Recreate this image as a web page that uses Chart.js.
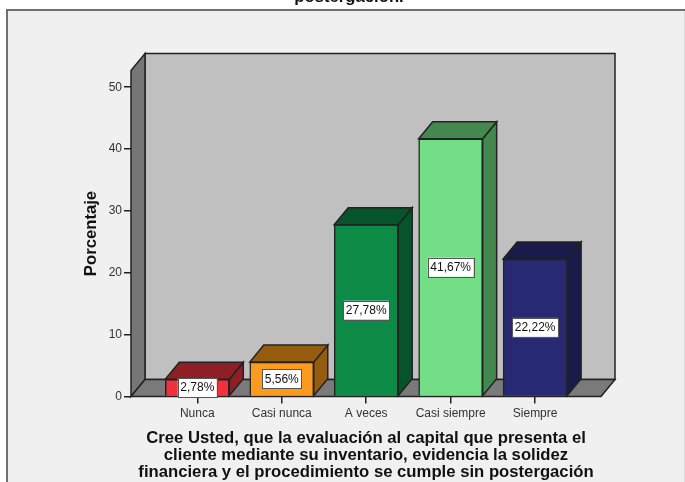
<!DOCTYPE html>
<html><head><meta charset="utf-8">
<style>html,body{margin:0;padding:0;background:#fff;overflow:hidden}canvas{display:block}</style>
<script src="https://cdn.jsdelivr.net/npm/chart.js@4"></script></head>
<body><div style="width:685px;height:482px"><canvas id="c" width="685" height="482"></canvas></div>
<script>
const categories = ['Nunca','Casi nunca','A veces','Casi siempre','Siempre'];
const percentages = [2.78,5.56,27.78,41.67,22.22];
const labelsText = ['2,78%','5,56%','27,78%','41,67%','22,22%'];
const yTicks = [0,10,20,30,40,50];
const frontColors = ['#f0323c','#fb9a1c','#0e8a47','#72de85','#272a72'];
const sideColors = ['#8e2025','#955c10','#05542b','#43884f','#191b4a'];
const titleLines = ['postergación.'];
const xTitleLines = ['Cree Usted, que la evaluación al capital que presenta el','cliente mediante su inventario, evidencia la solidez','financiera y el procedimiento se cumple sin postergación'];
const yTitle = 'Porcentaje';
const DX = 14, DY = -17, INK = '#222';
const FONT = '"Liberation Sans"';

function poly(ctx, pts, fill){
  ctx.beginPath(); pts.forEach((p,i)=> i?ctx.lineTo(p[0],p[1]):ctx.moveTo(p[0],p[1])); ctx.closePath();
  ctx.fillStyle = fill; ctx.fill(); ctx.lineWidth = 1.5; ctx.strokeStyle = INK; ctx.stroke();
}
const scene = {
  id:'scene',
  beforeDraw(ch){
    const c = ch.ctx;
    c.save();
    c.fillStyle = '#f0f0f0'; c.fillRect(7,10,678,472);
    c.fillStyle = '#707070'; c.fillRect(6,9,679,2); c.fillRect(6,9,2,473);
    c.fillStyle = '#dcdcdc'; c.fillRect(684,11,1,471);
    c.restore();
  },
  beforeDatasetsDraw(ch){
    const {left:l,right:r,top:t,bottom:b} = ch.chartArea, c = ch.ctx;
    c.save();
    poly(c,[[l+DX,t+DY],[r+DX,t+DY],[r+DX,b+DY],[l+DX,b+DY]],'#c0c0c0');
    poly(c,[[l,t],[l+DX,t+DY],[l+DX,b+DY],[l,b]],'#767676');
    poly(c,[[l,b],[l+DX,b+DY],[r+DX,b+DY],[r,b]],'#7a7a7a');
    c.restore();
  },
  afterDatasetsDraw(ch){
    const c = ch.ctx, bars = ch.getDatasetMeta(0).data;
    c.save();
    bars.forEach((e,i)=>{
      const x0=e.x-e.width/2, x1=e.x+e.width/2, y=e.y, b=e.base;
      poly(c,[[x1,y],[x1+DX,y+DY],[x1+DX,b+DY],[x1,b]],sideColors[i]);
      poly(c,[[x0,y],[x0+DX,y+DY],[x1+DX,y+DY],[x1,y]],sideColors[i]);
    });
    c.font = '12px '+FONT; c.textAlign='center'; c.textBaseline='middle';
    bars.forEach((e,i)=>{
      const my=(e.y+e.base)/2, w=c.measureText(labelsText[i]).width+5, h=19;
      c.fillStyle='#fff'; c.fillRect(e.x-w/2,my-h/2,w,h);
      c.strokeStyle='#555'; c.lineWidth=1; c.strokeRect(Math.round(e.x-w/2)+.5,Math.round(my-h/2)+.5,Math.round(w),h);
      c.fillStyle='#111'; c.fillText(labelsText[i],e.x,my+.5);
    });
    c.restore();
  }
};
new Chart(document.getElementById('c'),{
  type:'bar',
  data:{datasets:[{data:percentages.map((v,i)=>({x:i,y:v})),backgroundColor:frontColors,borderColor:INK,borderWidth:1.5,barThickness:64}]},
  plugins:[scene],
  options:{
    responsive:false,animation:false,
    layout:{padding:{left:13,right:0,top:0,bottom:0}},
    plugins:{legend:{display:false},tooltip:{enabled:false},
      title:{display:true,text:titleLines,color:'#111',font:{family:FONT,size:16.7,weight:'bold'},padding:{top:-13,bottom:63.5},align:'center'}},
    scales:{
      x:{type:'linear',min:-0.785,max:4.78,offset:false,
        afterBuildTicks(s){s.ticks=categories.map((_,i)=>({value:i}));},
        afterFit(s){s.height=85.5;},
        ticks:{autoSkip:false,maxRotation:0,padding:3,color:'#333',font:{family:FONT,size:12},callback:v=>categories[v]},
        grid:{offset:false,drawOnChartArea:false,tickLength:7,tickColor:INK,lineWidth:1.5},border:{display:false},
        title:{display:true,text:xTitleLines,color:'#111',font:{family:FONT,size:16.7,weight:'bold',lineHeight:'17px'},padding:{top:8,bottom:1}}
      },
      y:{min:0,max:52.7,
        afterBuildTicks(s){s.ticks=yTicks.map(v=>({value:v}));},
        afterFit(s){s.width=118;},
        ticks:{padding:2,color:'#333',font:{family:FONT,size:12}},
        grid:{drawOnChartArea:false,tickLength:7,tickColor:INK,lineWidth:1.5},border:{display:false},
        title:{display:true,text:yTitle,color:'#111',font:{family:FONT,size:16.7,weight:'bold'},padding:{top:68,bottom:0}}
      },
      gutter:{axis:'y',position:'right',min:0,max:1,
        afterFit(s){s.width=84;},
        ticks:{display:false},grid:{display:false},border:{display:false}
      }
    }
  }
});
</script></body></html>
